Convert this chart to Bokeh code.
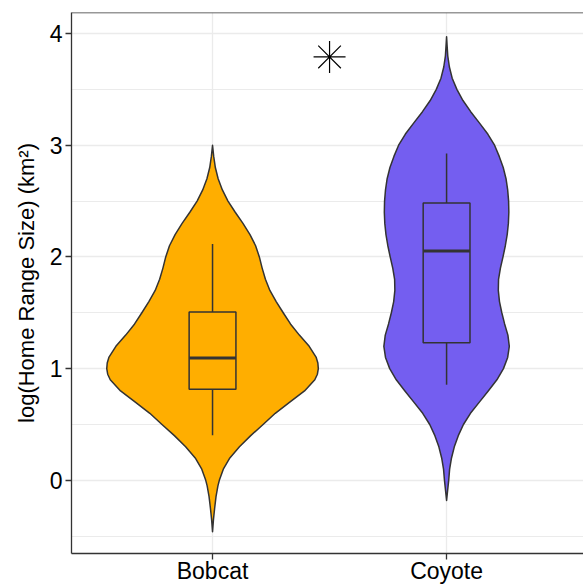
from bokeh.plotting import figure
from bokeh.models import Range1d, FixedTicker, Span, ColumnDataSource
from bokeh.embed import file_html
from bokeh.resources import INLINE

categories = ["Bobcat", "Coyote"]
positions = [1, 2]
colors = ["#FFAE00", "#745EF0"]

# violin profiles: y levels and half-widths (data units)
bobcat_y = [-0.46, -0.35, -0.25, -0.144, -0.05, 0.0, 0.1, 0.2, 0.3, 0.4, 0.5, 0.6,
            0.7, 0.8, 0.9, 0.95, 1.0, 1.05, 1.1, 1.2, 1.3, 1.4, 1.5, 1.6, 1.7, 1.8,
            1.9, 2.0, 2.1, 2.2, 2.3, 2.4, 2.5, 2.6, 2.7, 2.8, 2.9, 3.0]
bobcat_w = [0.0, 0.004, 0.009, 0.015, 0.023, 0.029, 0.046, 0.074, 0.115, 0.163, 0.216,
            0.268, 0.33, 0.393, 0.437, 0.448, 0.452, 0.45, 0.443, 0.413, 0.371, 0.333,
            0.302, 0.272, 0.245, 0.226, 0.212, 0.2, 0.184, 0.16, 0.13, 0.097, 0.066,
            0.042, 0.024, 0.012, 0.005, 0.0]
coyote_y = [-0.18, -0.1, 0.0, 0.1, 0.2, 0.3, 0.4, 0.5, 0.6, 0.7, 0.8, 0.9, 1.0, 1.1,
            1.2, 1.3, 1.4, 1.5, 1.6, 1.7, 1.8, 1.9, 2.0, 2.1, 2.2, 2.3, 2.4, 2.5, 2.6,
            2.7, 2.8, 2.9, 3.0, 3.1, 3.2, 3.3, 3.4, 3.5, 3.6, 3.7, 3.8, 3.9, 3.97]
coyote_w = [0.0, 0.004, 0.009, 0.013, 0.021, 0.033, 0.05, 0.072, 0.102, 0.14, 0.178,
            0.215, 0.243, 0.261, 0.268, 0.262, 0.248, 0.236, 0.226, 0.221, 0.222, 0.23,
            0.241, 0.251, 0.259, 0.264, 0.266, 0.265, 0.261, 0.254, 0.242, 0.225, 0.205,
            0.176, 0.14, 0.103, 0.07, 0.044, 0.024, 0.012, 0.005, 0.002, 0.0]

# boxplot stats
q1 = [0.815, 1.232]
median = [1.094, 2.054]
q3 = [1.508, 2.482]
whisker_low = [0.404, 0.856]
whisker_high = [2.115, 2.925]

# significance marker
star_x = [1.5]
star_y = [3.79]

FONT = "Liberation Sans"
DARK = "#333333"
Y_TOP = 4.188

p = figure(width=583, height=586, output_backend="svg", toolbar_location=None,
           x_range=Range1d(0.3974, 2.585), y_range=Range1d(-0.655, Y_TOP),
           min_border_left=71, min_border_top=12, min_border_right=0, min_border_bottom=10)
p.outline_line_color = None
p.background_fill_color = "white"

# grids
p.ygrid.ticker = FixedTicker(ticks=[0, 1, 2, 3, 4], minor_ticks=[-0.5, 0.5, 1.5, 2.5, 3.5])
p.ygrid.grid_line_color = "#EBEBEB"
p.ygrid.grid_line_width = 1.3
p.ygrid.minor_grid_line_color = "#EBEBEB"
p.ygrid.minor_grid_line_width = 1.0
p.xgrid.ticker = FixedTicker(ticks=positions)
p.xgrid.grid_line_color = "#EBEBEB"
p.xgrid.grid_line_width = 1.3

# violins
profiles = [(bobcat_y, bobcat_w), (coyote_y, coyote_w)]
for pos, (ys, ws), col in zip(positions, profiles, colors):
    xs = [pos - w for w in ws] + [pos + w for w in reversed(ws)]
    yy = list(ys) + list(reversed(ys))
    p.patch(xs, yy, fill_color=col, line_color=DARK, line_width=1.5, line_join="round")

# boxplots
src = ColumnDataSource(dict(x=positions, q1=q1, q3=q3, med=median,
                            lo=whisker_low, hi=whisker_high,
                            left=[x - 0.1 for x in positions],
                            right=[x + 0.1 for x in positions]))
p.segment(x0="x", y0="q3", x1="x", y1="hi", source=src, line_color=DARK, line_width=1.5)
p.segment(x0="x", y0="lo", x1="x", y1="q1", source=src, line_color=DARK, line_width=1.5)
p.quad(left="left", right="right", bottom="q1", top="q3", source=src,
       fill_alpha=0, line_color=DARK, line_width=1.5)
p.segment(x0="left", y0="med", x1="right", y1="med", source=src, line_color=DARK, line_width=3)

# star
p.scatter(star_x, star_y, marker="asterisk", size=32, line_color="black", line_width=1.2)

# top border
p.add_layout(Span(location=Y_TOP, dimension="width", line_color=DARK, line_width=1.3))

# axes
p.yaxis.ticker = FixedTicker(ticks=[0, 1, 2, 3, 4])
p.xaxis.ticker = FixedTicker(ticks=positions)
p.xaxis.major_label_overrides = {pos: cat for pos, cat in zip(positions, categories)}
for ax in (p.xaxis[0], p.yaxis[0]):
    ax.axis_line_color = DARK
    ax.axis_line_width = 1.3
    ax.major_tick_line_color = DARK
    ax.major_tick_line_width = 1.3
    ax.major_tick_out = 6
    ax.major_tick_in = 0
    ax.minor_tick_line_color = None
    ax.major_label_text_font = FONT
    ax.major_label_text_font_size = "23px"
    ax.major_label_text_color = "black"
p.yaxis.major_label_standoff = 3
p.xaxis.major_label_standoff = -2
p.yaxis.axis_label = "log(Home Range Size) (km²)"
p.yaxis.axis_label_text_font = FONT
p.yaxis.axis_label_text_font_size = "22px"
p.yaxis.axis_label_text_font_style = "normal"
p.yaxis.axis_label_text_color = "black"
p.yaxis.axis_label_standoff = 8

open("out.html", "w").write(file_html(p, INLINE))
